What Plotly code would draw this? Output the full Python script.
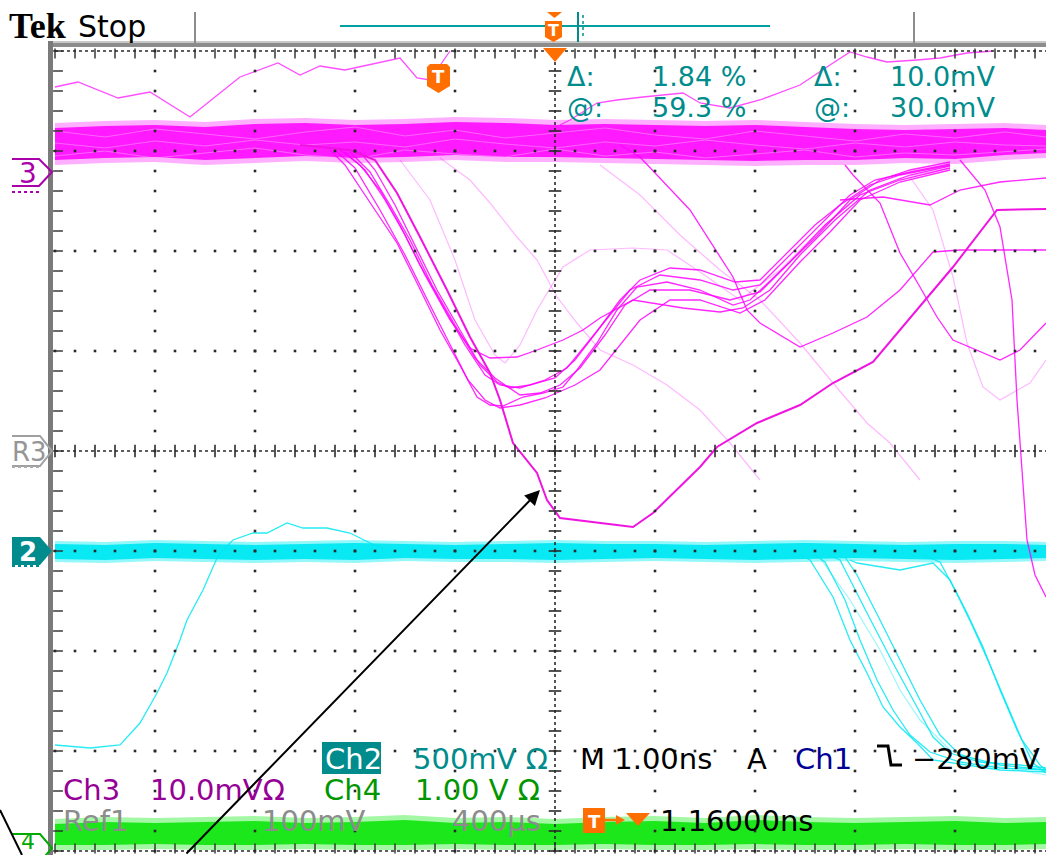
import numpy as np
import plotly.graph_objects as go

W, H = 1046, 855

# ---------------- data: time (ns, relative to trigger) / level (screen divisions) -------------
band_t = [-5.0, -4.5, -4.0, -3.5, -3.0, -2.5, -2.0, -1.5, -1.0, -0.5, 0.0, 0.5, 1.0, 1.5, 2.0,
          2.5, 3.0, 3.5, 4.0, 4.5, 4.91]
ch3_band_hi = [3.28, 3.30, 3.31, 3.29, 3.32, 3.33, 3.31, 3.32, 3.34, 3.33, 3.31, 3.32, 3.31, 3.30,
               3.31, 3.29, 3.27, 3.26, 3.27, 3.28, 3.26]
ch3_band_lo = [2.86, 2.88, 2.89, 2.86, 2.88, 2.90, 2.88, 2.89, 2.91, 2.89, 2.89, 2.88, 2.87, 2.86,
               2.85, 2.86, 2.86, 2.88, 2.87, 2.91, 2.93]
ch3_tex1 = [3.20, 3.14, 3.22, 3.17, 3.12, 3.19, 3.24, 3.15, 3.21, 3.13, 3.18, 3.23, 3.16, 3.12,
            3.20, 3.15, 3.10, 3.17, 3.13, 3.19, 3.14]
ch3_tex2 = [2.95, 3.00, 2.93, 2.98, 3.03, 2.96, 2.92, 3.01, 2.97, 2.94, 3.02, 2.95, 2.99, 2.93,
            2.97, 3.01, 2.94, 2.98, 2.96, 2.99, 3.02]
ch3_tex3 = [3.08, 3.03, 3.10, 3.05, 3.11, 3.06, 3.09, 3.04, 3.12, 3.07, 3.03, 3.09, 3.05, 3.11,
            3.06, 3.02, 3.08, 3.04, 3.09, 3.06, 3.05]
ch2_band_hi = [-0.90, -0.91, -0.89, -0.90, -0.91, -0.90, -0.89, -0.90, -0.91, -0.90, -0.89, -0.90,
               -0.90, -0.91, -0.90, -0.89, -0.90, -0.91, -0.90, -0.90, -0.91]
ch2_band_lo = [-1.11, -1.12, -1.10, -1.11, -1.12, -1.11, -1.12, -1.10, -1.11, -1.11, -1.12, -1.11,
               -1.10, -1.11, -1.12, -1.11, -1.10, -1.11, -1.12, -1.11, -1.10]
ch4_band_hi = [-3.68, -3.66, -3.67, -3.66, -3.65, -3.67, -3.66, -3.64, -3.67, -3.66, -3.68, -3.66,
               -3.65, -3.67, -3.64, -3.66, -3.67, -3.66, -3.65, -3.67, -3.66]
ch4_band_lo = [-3.99, -3.99, -3.98, -3.99, -3.99, -3.98, -3.99, -3.99, -3.98, -3.99, -3.99, -3.98,
               -3.99, -3.99, -3.98, -3.99, -3.99, -3.98, -3.99, -3.99, -3.98]

ch3_bold_t = [-2.55, -2.05, -1.80, -1.58, -1.35, -1.08, -0.85, -0.65, -0.55, -0.42, -0.18, -0.08, 0.05,
              0.45, 0.78, 0.98, 1.45, 1.62, 2.02, 2.45, 2.78, 3.18, 3.62, 3.98, 4.42, 4.91]
ch3_bold_v = [3.06, 3.01, 2.91, 2.58, 2.14, 1.61, 1.14, 0.78, 0.51, 0.08, -0.22, -0.49, -0.67,
              -0.72, -0.76, -0.62, -0.16, 0.04, 0.28, 0.46, 0.68, 0.89, 1.41, 1.84, 2.41, 2.42]

ch3_f1_t = [-2.25, -2.10, -1.82, -1.58, -1.38, -1.15, -0.98, -0.78, -0.65, -0.52, -0.32, -0.12, 0.08,
            0.22, 0.42, 0.62, 0.82, 1.12, 1.45, 1.78, 1.95, 2.28, 2.62, 2.95, 3.25, 3.55, 3.95]
ch3_f1_v = [3.01, 2.86, 2.44, 2.08, 1.68, 1.21, 0.91, 0.54, 0.46, 0.45, 0.54, 0.58, 0.64,
            0.81, 1.08, 1.41, 1.64, 1.69, 1.61, 1.46, 1.51, 1.83, 2.15, 2.51, 2.71, 2.81, 2.89]
ch3_f2_t = [-2.15, -1.95, -1.75, -1.55, -1.35, -1.10, -0.90, -0.70, -0.55, -0.35, -0.10, 0.12, 0.35,
            0.55, 0.75, 1.05, 1.45, 1.78, 2.05, 2.35, 2.65, 2.95, 3.20, 3.55, 3.95]
ch3_f2_v = [3.01, 2.86, 2.61, 2.26, 1.86, 1.41, 1.06, 0.76, 0.66, 0.63, 0.71, 0.83, 1.11,
            1.36, 1.61, 1.76, 1.71, 1.61, 1.66, 1.96, 2.26, 2.56, 2.71, 2.79, 2.87]
ch3_f3_t = [-1.95, -1.80, -1.60, -1.40, -1.18, -0.95, -0.75, -0.58, -0.45, -0.25, 0.00, 0.20, 0.43,
            0.65, 0.85, 1.15, 1.45, 1.80, 2.05, 2.35, 2.60, 2.85, 3.15, 3.45, 3.95]
ch3_f3_v = [2.99, 2.81, 2.46, 2.06, 1.61, 1.21, 0.86, 0.69, 0.63, 0.66, 0.73, 0.91, 1.21,
            1.51, 1.71, 1.83, 1.81, 1.69, 1.71, 2.01, 2.26, 2.46, 2.66, 2.76, 2.86]
ch3_f4_t = [-2.05, -1.85, -1.65, -1.45, -1.23, -1.00, -0.80, -0.60, -0.50, -0.35, -0.15, 0.05, 0.25,
            0.50, 0.70, 0.95, 1.35, 1.75, 2.05, 2.35, 2.70, 3.05, 3.45, 3.95]
ch3_f4_v = [2.99, 2.79, 2.46, 2.11, 1.66, 1.26, 0.93, 0.73, 0.66, 0.56, 0.58, 0.66, 0.83,
            1.16, 1.46, 1.61, 1.61, 1.51, 1.59, 1.89, 2.26, 2.56, 2.71, 2.83]
ch3_f5_t = [-2.10, -1.90, -1.70, -1.50, -1.30, -1.05, -0.85, -0.65, -0.38, -0.18, 0.08, 0.28, 0.45,
            0.78, 1.28, 1.65, 1.88, 2.15, 2.45, 2.80, 3.15, 3.55, 3.95]
ch3_f5_v = [2.99, 2.81, 2.51, 2.16, 1.76, 1.31, 1.03, 0.93, 0.94, 1.01, 1.11, 1.21, 1.33,
            1.51, 1.43, 1.39, 1.43, 1.61, 1.96, 2.31, 2.61, 2.76, 2.85]
ch3_f6_t = [-2.20, -2.00, -1.75, -1.50, -1.25, -1.05, -0.87, -0.70, -0.55, -0.35, -0.10, 0.20, 0.45,
            0.85, 1.15, 1.45, 1.85, 2.10, 2.45, 2.75, 3.05, 3.45, 3.95]
ch3_f6_v = [3.01, 2.83, 2.41, 1.96, 1.46, 1.06, 0.71, 0.51, 0.43, 0.46, 0.53, 0.66, 0.81,
            1.31, 1.51, 1.51, 1.38, 1.51, 1.89, 2.19, 2.51, 2.69, 2.81]

ch3_faint1_t = [-1.15, -0.85, -0.65, -0.38, -0.18, 0.02, 0.22, 0.45, 0.78, 1.12, 1.45, 1.75, 2.05]
ch3_faint1_v = [2.93, 2.71, 2.48, 2.14, 1.91, 1.54, 1.28, 1.01, 0.86, 0.66, 0.41, 0.08, -0.29]
ch3_faint2_t = [0.45, 0.85, 1.25, 1.65, 2.05, 2.45, 2.78, 3.12, 3.35, 3.65]
ch3_faint2_v = [2.86, 2.56, 2.16, 1.81, 1.51, 1.08, 0.68, 0.28, 0.08, -0.29]
ch3_faint3_t = [-1.55, -1.25, -1.00, -0.80, -0.60, -0.50, -0.35, -0.18, 0.08, 0.35, 0.78, 1.12,
                1.45, 1.85, 2.25, 2.65, 3.05, 3.45, 3.95]
ch3_faint3_v = [2.91, 2.51, 1.91, 1.31, 0.96, 0.88, 1.06, 1.41, 1.84, 2.01, 2.03, 2.01,
                1.79, 1.51, 1.81, 2.21, 2.56, 2.73, 2.83]
ch3_faint4_t = [3.55, 3.78, 3.98, 4.12, 4.28, 4.45, 4.75, 4.91]
ch3_faint4_v = [2.74, 2.41, 1.74, 1.08, 0.64, 0.51, 0.68, 0.91]

ch3_d_t = [2.90, 2.98, 3.25, 3.45, 3.65, 3.82, 3.98, 4.45, 4.65, 4.91]
ch3_d_v = [2.86, 2.76, 2.48, 1.98, 1.64, 1.34, 1.11, 0.91, 1.01, 1.28]
ch3_e_t = [0.65, 0.85, 1.35, 1.78, 1.92, 2.05, 2.45, 2.78, 3.12, 3.45, 3.78, 4.05, 4.45, 4.91]
ch3_e_v = [3.06, 2.94, 2.41, 1.74, 1.41, 1.28, 1.04, 1.18, 1.34, 1.61, 1.99, 2.01, 2.01, 2.01]
ch3_g_t = [4.05, 4.30, 4.45, 4.57, 4.62, 4.67, 4.72, 4.80, 4.91]
ch3_g_v = [2.91, 2.61, 2.24, 1.51, 0.51, -0.19, -0.89, -1.24, -1.46]
ch3_h_t = [2.85, 3.28, 3.75, 4.05, 4.45, 4.91]
ch3_h_v = [2.51, 2.54, 2.46, 2.61, 2.69, 2.73]

ch3_top1_t = [-5.00, -4.77, -4.37, -4.05, -3.65, -3.15, -2.77, -2.55, -2.35, -2.10, -1.55, -1.38,
              -1.25, -1.05]
ch3_top1_v = [3.64, 3.69, 3.53, 3.59, 3.34, 3.74, 3.88, 3.76, 3.85, 3.81, 3.93, 3.73, 3.71, 4.00]
ch3_top2_t = [0.05, 0.15, 0.42, 0.62, 0.88, 1.28, 1.45, 1.75, 2.05, 2.45, 2.75, 2.95, 3.12, 3.32,
              3.62, 3.85, 4.12, 4.38]
ch3_top2_v = [3.26, 3.31, 3.48, 3.51, 3.54, 3.58, 3.48, 3.43, 3.51, 3.66, 3.86, 3.99, 3.94, 3.89,
              3.91, 3.93, 3.98, 4.00]

ch2_left_t = [-5.00, -4.65, -4.35, -4.15, -3.98, -3.88, -3.75, -3.68, -3.52, -3.38, -3.32, -3.22,
              -3.02, -2.88, -2.68, -2.52, -2.28, -2.05, -1.85, -1.70]
ch2_left_v = [-2.94, -2.97, -2.94, -2.72, -2.42, -2.22, -1.89, -1.69, -1.39, -1.07, -0.99, -0.89,
              -0.82, -0.82, -0.72, -0.77, -0.77, -0.82, -0.92, -0.99]
ch2_r1_t = [2.45, 2.55, 2.78, 2.95, 3.12, 3.28, 3.45, 3.62, 3.78, 4.12, 4.45, 4.91]
ch2_r1_v = [-1.04, -1.09, -1.46, -1.89, -2.22, -2.56, -2.76, -2.92, -3.09, -3.14, -3.19, -3.21]
ch2_r2_t = [2.60, 2.70, 2.90, 3.05, 3.22, 3.38, 3.55, 3.75, 4.05, 4.45, 4.91]
ch2_r2_v = [-1.04, -1.11, -1.49, -1.89, -2.29, -2.59, -2.84, -3.01, -3.11, -3.17, -3.19]
ch2_r3_t = [2.75, 2.85, 3.12, 3.38, 3.62, 3.78, 3.95, 4.25, 4.65, 4.91]
ch2_r3_v = [-1.05, -1.09, -1.62, -2.12, -2.56, -2.86, -3.02, -3.11, -3.14, -3.17]
ch2_r4_t = [2.65, 2.95, 3.25, 3.45, 3.65, 3.95, 4.35, 4.91]
ch2_r4_v = [-1.07, -1.49, -1.99, -2.39, -2.69, -2.99, -3.14, -3.24]
ch2_r5_t = [2.90, 3.02, 3.25, 3.45, 3.65, 3.85, 4.05, 4.45, 4.91]
ch2_r5_v = [-1.06, -1.24, -1.69, -2.09, -2.49, -2.84, -3.04, -3.14, -3.19]
ch2_p1_t = [2.95, 3.02, 3.45, 3.78, 3.95, 4.12, 4.28, 4.45, 4.62, 4.78, 4.91]
ch2_p1_v = [-1.09, -1.12, -1.19, -1.12, -1.29, -1.62, -1.96, -2.39, -2.79, -3.12, -3.22]
ch2_p2_t = [3.70, 3.85, 4.00, 4.17, 4.35, 4.50, 4.67, 4.85, 4.91]
ch2_p2_v = [-1.05, -1.11, -1.39, -1.74, -2.14, -2.49, -2.89, -3.14, -3.19]

# ---------------- styles ----------------
MAG = 'rgba(255,0,255,0.85)'
MAG_FAINT = 'rgba(255,0,255,0.28)'
MAG_BOLD = 'rgb(240,20,225)'
CYAN = 'rgba(0,232,242,0.85)'
CYAN_FAINT = 'rgba(0,232,242,0.4)'
TEAL = 'rgb(0,140,140)'
PURPLE = 'rgb(150,0,150)'
DGREEN = 'rgb(0,150,0)'
GRAY = 'rgb(140,140,140)'
ORANGE = 'rgb(255,110,0)'
NAVY = 'rgb(0,0,150)'
FONT = 'DejaVu Sans'

fig = go.Figure()


def band(t, hi, lo, color, inset=0.0):
    hi2 = [v - inset for v in hi]
    lo2 = [v + inset for v in lo]
    fig.add_trace(go.Scatter(x=list(t) + list(t)[::-1], y=hi2 + lo2[::-1], fill='toself',
                             fillcolor=color, mode='lines', line=dict(width=0),
                             hoverinfo='skip'))


def line(t, v, color, width=1.3):
    fig.add_trace(go.Scatter(x=t, y=v, mode='lines', line=dict(color=color, width=width),
                             hoverinfo='skip'))


band(band_t, ch3_band_hi, ch3_band_lo, 'rgba(255,110,255,0.55)')
band(band_t, ch3_band_hi, ch3_band_lo, 'rgba(255,0,255,0.85)', inset=0.05)
for tex in (ch3_tex1, ch3_tex2, ch3_tex3):
    line(band_t, tex, 'rgba(255,160,255,0.55)', 1.0)
band(band_t, ch2_band_hi, ch2_band_lo, 'rgba(60,240,245,0.55)')
band(band_t, ch2_band_hi, ch2_band_lo, 'rgba(0,232,242,0.95)', inset=0.03)
band(band_t, ch4_band_hi, ch4_band_lo, 'rgba(90,240,90,0.55)')
band(band_t, ch4_band_hi, ch4_band_lo, 'rgba(20,230,20,0.95)', inset=0.05)

for t, v in [(ch3_faint1_t, ch3_faint1_v), (ch3_faint2_t, ch3_faint2_v),
             (ch3_faint3_t, ch3_faint3_v), (ch3_faint4_t, ch3_faint4_v)]:
    line(t, v, MAG_FAINT, 1.2)
for t, v in [(ch3_f1_t, ch3_f1_v), (ch3_f2_t, ch3_f2_v), (ch3_f3_t, ch3_f3_v),
             (ch3_f4_t, ch3_f4_v), (ch3_f5_t, ch3_f5_v), (ch3_f6_t, ch3_f6_v),
             (ch3_d_t, ch3_d_v), (ch3_e_t, ch3_e_v), (ch3_g_t, ch3_g_v), (ch3_h_t, ch3_h_v)]:
    line(t, v, MAG, 1.3)
for t, v in [(ch3_top1_t, ch3_top1_v), (ch3_top2_t, ch3_top2_v)]:
    line(t, v, 'rgba(255,0,255,0.7)', 1.3)
line(ch3_bold_t, ch3_bold_v, MAG_BOLD, 2.0)

line(ch2_r4_t, ch2_r4_v, CYAN_FAINT, 1.2)
for t, v in [(ch2_left_t, ch2_left_v), (ch2_r1_t, ch2_r1_v), (ch2_r2_t, ch2_r2_v),
             (ch2_r3_t, ch2_r3_v), (ch2_r5_t, ch2_r5_v), (ch2_p1_t, ch2_p1_v),
             (ch2_p2_t, ch2_p2_v)]:
    line(t, v, CYAN, 1.3)

# ---------------- graticule ----------------
GC = '#2a2a2a'
minor_t = np.round(np.arange(-5, 5.001, 0.2), 3)
minor_v = np.round(np.arange(-4, 4.001, 0.2), 3)
gx, gy = [], []
for mx in range(-4, 5):
    if mx != 0:
        gx += [mx] * len(minor_v)
        gy += list(minor_v)
for mv in range(-3, 4):
    if mv != 0:
        gx += list(minor_t)
        gy += [mv] * len(minor_t)
fig.add_trace(go.Scatter(x=gx, y=gy, mode='markers', hoverinfo='skip',
                         marker=dict(symbol='square', size=2.6, color=GC, line=dict(width=0))))
fig.add_trace(go.Scatter(x=list(minor_t), y=[0] * len(minor_t), mode='markers', hoverinfo='skip',
                         marker=dict(symbol='line-ns', size=9, line=dict(width=1.6, color=GC))))
fig.add_trace(go.Scatter(x=[0] * len(minor_v), y=list(minor_v), mode='markers', hoverinfo='skip',
                         marker=dict(symbol='line-ew', size=9, line=dict(width=1.6, color=GC))))
fig.add_trace(go.Scatter(x=list(minor_t), y=[3.975] * len(minor_t), mode='markers', hoverinfo='skip',
                         marker=dict(symbol='line-ns', size=7, line=dict(width=1.4, color=GC))))
fig.add_trace(go.Scatter(x=list(minor_t), y=[-3.975] * len(minor_t), mode='markers', hoverinfo='skip',
                         marker=dict(symbol='line-ns', size=7, line=dict(width=1.4, color=GC))))
fig.add_trace(go.Scatter(x=[-4.97] * len(minor_v), y=list(minor_v), mode='markers', hoverinfo='skip',
                         marker=dict(symbol='line-ew', size=7, line=dict(width=1.4, color=GC))))

shapes = []
for (x0, y0, x1, y1) in [(0, -4, 0, 4), (-5, 0, 5, 0), (-5, 4.0, 5, 4.0), (-5, -4.0, 5, -4.0)]:
    shapes.append(dict(type='line', xref='x', yref='y', x0=x0, y0=y0, x1=x1, y1=y1,
                       line=dict(color=GC, width=1.6, dash='dot')))


def P(x, y):
    return f"{x / W:.5f},{1 - y / H:.5f}"


def pth(points, closed=True):
    return "M " + " L ".join(P(*p) for p in points) + (" Z" if closed else "")


def pshape(points, fill=None, color=None, width=2, closed=True, dash=None):
    d = dict(type='path', xref='paper', yref='paper', path=pth(points, closed),
             line=dict(color=color or 'rgba(0,0,0,0)', width=width if color else 0))
    if dash:
        d['line']['dash'] = dash
    if fill:
        d['fillcolor'] = fill
    shapes.append(d)


def rect(x0, y0, x1, y1, fill, color=None, width=0):
    shapes.append(dict(type='rect', xref='paper', yref='paper', x0=x0 / W, x1=x1 / W,
                       y0=1 - y1 / H, y1=1 - y0 / H, fillcolor=fill,
                       line=dict(color=color or fill, width=width)))


def seg(x0, y0, x1, y1, color, width=2, dash=None):
    d = dict(type='line', xref='paper', yref='paper', x0=x0 / W, y0=1 - y0 / H, x1=x1 / W,
             y1=1 - y1 / H, line=dict(color=color, width=width))
    if dash:
        d['line']['dash'] = dash
    shapes.append(d)


# frame bands
rect(48, 41, 1046, 47, '#8c8c8c')
rect(48, 41, 1046, 43, '#c8c8c8')
rect(48, 41, 53, 855, '#7a7a7a')

# header
seg(195, 12, 195, 44, '#8c8c8c', 2)
seg(914, 12, 914, 44, '#8c8c8c', 2)
seg(340, 26, 770, 26, 'rgb(0,160,160)', 2)
seg(578, 12, 578, 42, 'rgb(0,140,140)', 2)
seg(583, 15, 583, 39, 'rgb(0,140,140)', 1.5, 'dot')
pshape([(547, 12), (562, 12), (554.5, 18)], fill=ORANGE)
pshape([(545, 21), (562, 21), (562, 37), (553.5, 42), (545, 37)], fill=ORANGE)
pshape([(543, 48), (567, 48), (555, 62)], fill=ORANGE)
pshape([(427, 67), (430, 64), (447, 64), (450, 67), (450, 86), (438.5, 93), (427, 86)], fill=ORANGE)

# channel markers
pshape([(12, 159), (39, 159), (52, 172), (39, 186), (12, 186)], color='rgb(170,0,170)', width=2,
       closed=False)
seg(12, 192, 40, 192, 'rgb(170,0,170)', 2, 'dot')
pshape([(12, 436), (40, 436), (52, 451), (40, 466), (12, 466)], color='rgb(160,160,160)', width=2,
       closed=False)
seg(12, 467, 40, 467, 'rgb(170,170,170)', 2, 'dot')
pshape([(12, 537), (40, 537), (52, 551), (40, 565), (12, 565)], fill=TEAL)
seg(12, 566, 40, 566, TEAL, 2, 'dot')
pshape([(12, 834), (40, 834), (52, 848), (40, 862), (12, 862)], color='rgb(0,170,0)', width=2,
       closed=False)

# bottom readout boxes / symbols
rect(322, 742, 381, 774, TEAL)
pshape([(877, 746), (888, 746), (891, 765), (902, 765)], color='black', width=3, closed=False)
rect(583, 808, 605, 833, ORANGE)
seg(605, 820, 618, 820, ORANGE, 2.5)
pshape([(616, 815), (625, 820), (616, 825)], fill=ORANGE)
pshape([(626, 813), (650, 813), (638, 826)], fill=ORANGE)

# black pointer line at lower left
seg(0, 810, 22, 855, 'black', 2)

fig.update_layout(shapes=shapes)


def txt(s, x, y, color, size=29, family=FONT, anchor='left', vanchor='middle'):
    fig.add_annotation(text=s, x=x / W, y=1 - y / H, xref='paper', yref='paper', xanchor=anchor,
                       yanchor=vanchor, showarrow=False, borderpad=0,
                       font=dict(family=family, size=size, color=color))


txt('<b>Tek</b>', 8, 26, 'black', 36, 'Liberation Serif')
txt('Stop', 77, 26, 'black', 30)
txt('<b>T</b>', 553.5, 31, 'white', 16, anchor='center')
txt('<b>T</b>', 438.5, 77, 'white', 18, anchor='center')

# cursor readouts: two rows, boxes meeting at y=92
for s, x in [('Δ:', 566), ('1.84 %', 651), ('Δ:', 813), ('10.0mV', 889)]:
    txt(s, x, 93, TEAL, 27, vanchor='bottom')
for s, x in [('@:', 566), ('59.3 %', 651), ('@:', 813), ('30.0mV', 889)]:
    txt(s, x, 91, TEAL, 27, vanchor='top')

txt('3', 28, 174, 'rgb(170,0,170)', 28, anchor='center')
txt('R3', 29, 452, 'rgb(150,150,150)', 26, anchor='center')
txt('<b>2</b>', 28, 552, 'white', 26, anchor='center')
txt('4', 28, 841, 'rgb(0,170,0)', 22, anchor='center')

txt('Ch2', 324, 759, 'white')
txt('500mV Ω', 412, 759, TEAL)
txt('M 1.00ns', 579, 759, 'black')
txt('A', 746, 759, 'black')
txt('Ch1', 794, 759, NAVY)
txt('\u2212280mV', 911, 759, 'black')

txt('Ch3', 62, 790, PURPLE)
txt('10.0mVΩ', 149, 790, PURPLE)
txt('Ch4', 323, 790, DGREEN)
txt('1.00 V Ω', 414, 790, DGREEN)

txt('Ref1', 62, 821, GRAY)
txt('100mV', 261, 821, GRAY)
txt('400µs', 451, 821, GRAY)
txt('<b>T</b>', 594, 821, 'white', 18, anchor='center')
txt('1.16000ns', 659, 821, 'black')

fig.add_annotation(x=540 / W, y=1 - 490 / H, xref='paper', yref='paper', ax=-355, ay=365,
                   axref='pixel', ayref='pixel', text='', showarrow=True, arrowhead=2,
                   arrowsize=1.5, arrowwidth=2, arrowcolor='black', standoff=0)

fig.update_layout(
    width=W, height=H, margin=dict(l=0, r=0, t=0, b=0),
    paper_bgcolor='white', plot_bgcolor='white', showlegend=False,
    xaxis=dict(range=[-5.55, 4.91], visible=False, fixedrange=True),
    yaxis=dict(range=[-4.04, 4.51], visible=False, fixedrange=True),
)

fig.write_html("out.html", config={'displayModeBar': False})
